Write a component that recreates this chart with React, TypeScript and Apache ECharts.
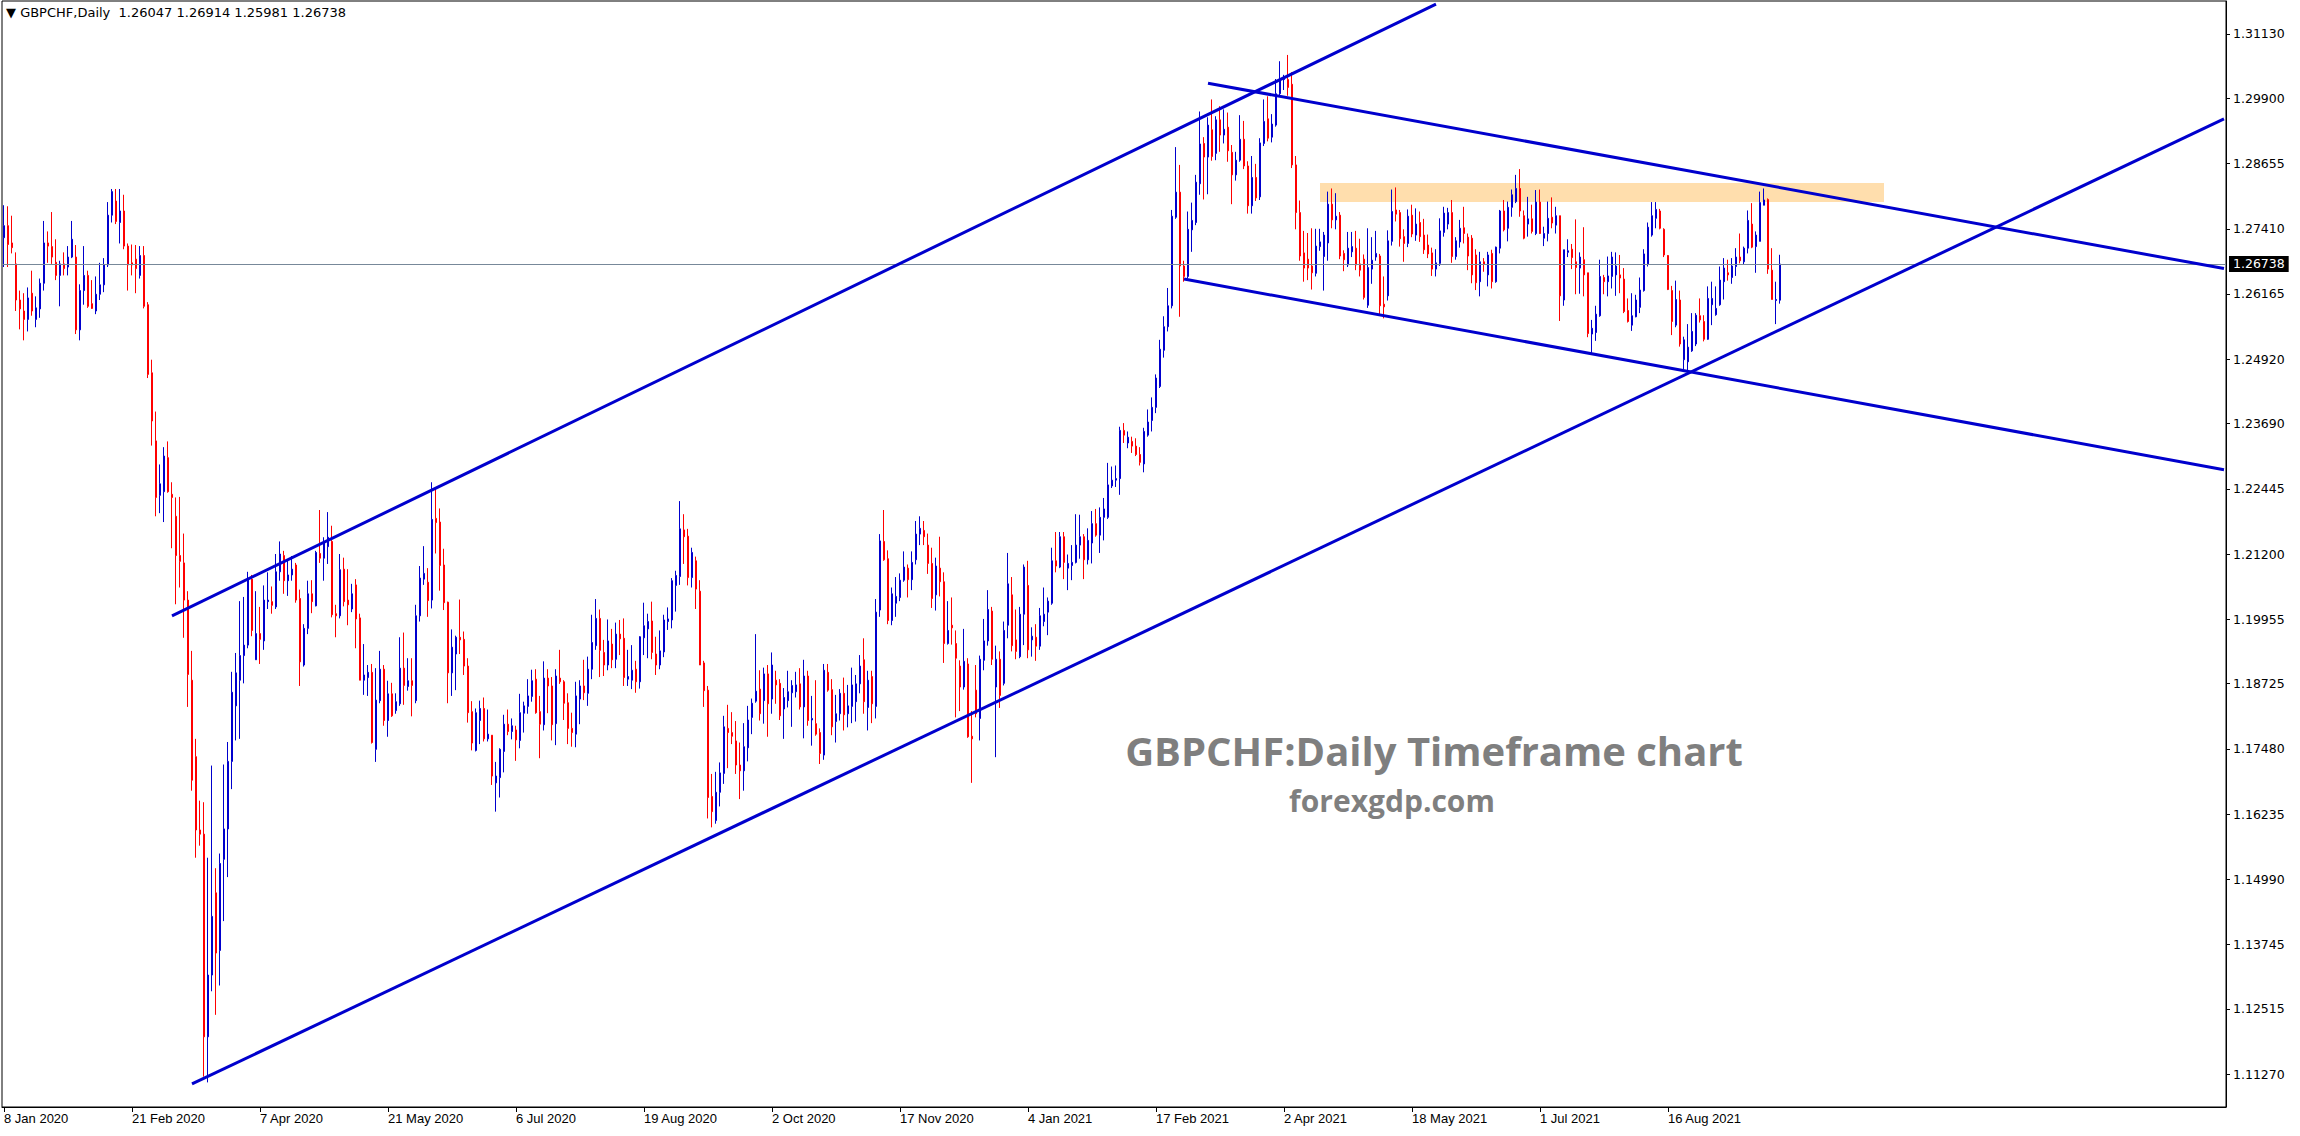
import React, { useEffect, useRef } from "react";
import * as echarts from "echarts";

// ---------- data (rows are [open, close, low, high]) ----------
const barsJanApr2020 = [
  [1.2724, 1.2747, 1.2668, 1.2786], [1.2747, 1.2711, 1.2668, 1.2784], [1.2714, 1.2705, 1.2694, 1.2766], [1.2674, 1.2605, 1.2584, 1.2696],
  [1.2605, 1.2588, 1.2549, 1.2623], [1.2584, 1.2568, 1.2528, 1.2618], [1.2568, 1.2609, 1.2545, 1.2629], [1.2618, 1.2584, 1.2575, 1.2661],
  [1.2568, 1.2590, 1.2553, 1.2612], [1.2588, 1.2637, 1.2571, 1.2646], [1.2637, 1.2714, 1.2623, 1.2756], [1.2714, 1.2708, 1.2676, 1.2736],
  [1.2707, 1.2687, 1.2674, 1.2773], [1.2677, 1.2652, 1.2643, 1.2721], [1.2652, 1.2674, 1.2593, 1.2680], [1.2674, 1.2665, 1.2652, 1.2696],
  [1.2668, 1.2687, 1.2652, 1.2708], [1.2687, 1.2721, 1.2685, 1.2756], [1.2687, 1.2548, 1.2540, 1.2710], [1.2548, 1.2623, 1.2528, 1.2635],
  [1.2623, 1.2652, 1.2596, 1.2708], [1.2652, 1.2593, 1.2590, 1.2661], [1.2598, 1.2589, 1.2588, 1.2643], [1.2584, 1.2616, 1.2578, 1.2650],
  [1.2616, 1.2634, 1.2605, 1.2676], [1.2634, 1.2672, 1.2620, 1.2685], [1.2672, 1.2767, 1.2668, 1.2792], [1.2767, 1.2812, 1.2753, 1.2817],
  [1.2794, 1.2755, 1.2750, 1.2817], [1.2753, 1.2775, 1.2713, 1.2817], [1.2775, 1.2708, 1.2702, 1.2806], [1.2708, 1.2672, 1.2623, 1.2713],
  [1.2676, 1.2672, 1.2652, 1.2711], [1.2683, 1.2665, 1.2618, 1.2710], [1.2652, 1.2690, 1.2646, 1.2708], [1.2690, 1.2593, 1.2589, 1.2708],
  [1.2596, 1.2463, 1.2456, 1.2601], [1.2466, 1.2374, 1.2327, 1.2491], [1.2336, 1.2228, 1.2192, 1.2392], [1.2232, 1.2254, 1.2198, 1.2291],
  [1.2239, 1.2307, 1.2181, 1.2324], [1.2304, 1.2239, 1.2237, 1.2335], [1.2234, 1.2228, 1.2131, 1.2257], [1.2192, 1.2117, 1.2024, 1.2228],
  [1.2117, 1.2106, 1.2056, 1.2229], [1.2103, 1.2032, 1.1960, 1.2159], [1.2032, 1.1890, 1.1828, 1.2049], [1.1879, 1.1688, 1.1668, 1.1935],
  [1.1733, 1.1593, 1.1540, 1.1767], [1.1593, 1.1585, 1.1563, 1.1649], [1.1585, 1.1198, 1.1122, 1.1646], [1.1198, 1.1316, 1.1111, 1.1540],
  [1.1316, 1.1428, 1.1285, 1.1716], [1.1473, 1.1358, 1.1240, 1.1520], [1.1363, 1.1529, 1.1296, 1.1548], [1.1537, 1.1595, 1.1419, 1.1718],
  [1.1595, 1.1724, 1.1503, 1.1761], [1.1724, 1.1856, 1.1671, 1.1895], [1.1830, 1.1893, 1.1764, 1.1931], [1.1879, 1.1926, 1.1767, 1.2030],
  [1.1926, 1.1946, 1.1873, 1.2038], [1.1946, 1.2072, 1.1940, 1.2086], [1.2072, 1.1974, 1.1963, 1.2080], [1.1918, 1.1968, 1.1918, 1.2049],
  [1.1968, 1.1957, 1.1910, 1.2019], [1.1954, 1.2032, 1.1937, 1.2060], [1.2029, 1.2032, 1.2015, 1.2085], [1.2029, 1.2022, 1.2006, 1.2058],
  [1.2019, 1.2086, 1.2015, 1.2120], [1.2086, 1.2120, 1.2069, 1.2144], [1.2117, 1.2069, 1.2044, 1.2126], [1.2069, 1.2080, 1.2040, 1.2108],
  [1.2080, 1.2091, 1.2069, 1.2116], [1.2099, 1.2032, 1.2027, 1.2103], [1.2035, 1.1914, 1.1868, 1.2052],
];

const barsAprAug2020 = [
  [1.1908, 1.1978, 1.1905, 1.1986], [1.1978, 1.2044, 1.1967, 1.2069], [1.2044, 1.2029, 1.2007, 1.2070], [1.2021, 1.2123, 1.2020, 1.2126],
  [1.2121, 1.2112, 1.2103, 1.2204], [1.2112, 1.2142, 1.2069, 1.2152], [1.2134, 1.2152, 1.2101, 1.2200], [1.2144, 1.2004, 1.1999, 1.2174],
  [1.2006, 1.2002, 1.1961, 1.2023], [1.2002, 1.2090, 1.1997, 1.2120], [1.2091, 1.2029, 1.2020, 1.2113], [1.2032, 1.2023, 1.1984, 1.2091],
  [1.2015, 1.2044, 1.2009, 1.2063], [1.2061, 1.1996, 1.1940, 1.2072], [1.1998, 1.1879, 1.1879, 1.2006], [1.1879, 1.1889, 1.1851, 1.1948],
  [1.1884, 1.1894, 1.1849, 1.1908], [1.1894, 1.1760, 1.1758, 1.1910], [1.1747, 1.1841, 1.1723, 1.1902], [1.1840, 1.1900, 1.1835, 1.1935],
  [1.1900, 1.1802, 1.1792, 1.1908], [1.1802, 1.1853, 1.1771, 1.1878], [1.1853, 1.1811, 1.1809, 1.1874], [1.1821, 1.1838, 1.1815, 1.1854],
  [1.1834, 1.1902, 1.1830, 1.1961], [1.1902, 1.1869, 1.1832, 1.1970], [1.1867, 1.1878, 1.1859, 1.1921], [1.1878, 1.1869, 1.1810, 1.1921],
  [1.1840, 1.2002, 1.1835, 1.2023], [1.2002, 1.2074, 1.1991, 1.2097], [1.2072, 1.2083, 1.2061, 1.2135], [1.2066, 1.2031, 1.2000, 1.2093],
  [1.2032, 1.2186, 1.2016, 1.2257], [1.2188, 1.2180, 1.2121, 1.2247], [1.2181, 1.2098, 1.2050, 1.2207], [1.2099, 1.2027, 1.2013, 1.2130],
  [1.2028, 1.1893, 1.1835, 1.2029], [1.1893, 1.1942, 1.1849, 1.1976], [1.1929, 1.1961, 1.1860, 1.1964], [1.1961, 1.1956, 1.1929, 1.2033],
  [1.1957, 1.1906, 1.1889, 1.1972], [1.1906, 1.1817, 1.1798, 1.1921], [1.1819, 1.1759, 1.1745, 1.1839], [1.1745, 1.1817, 1.1743, 1.1825],
  [1.1802, 1.1825, 1.1757, 1.1840], [1.1825, 1.1767, 1.1762, 1.1846], [1.1767, 1.1776, 1.1762, 1.1823], [1.1774, 1.1696, 1.1679, 1.1774],
  [1.1683, 1.1696, 1.1628, 1.1723], [1.1693, 1.1747, 1.1655, 1.1749], [1.1743, 1.1795, 1.1703, 1.1813], [1.1795, 1.1781, 1.1774, 1.1823],
  [1.1781, 1.1792, 1.1766, 1.1806], [1.1784, 1.1765, 1.1725, 1.1792], [1.1764, 1.1817, 1.1749, 1.1853], [1.1816, 1.1830, 1.1779, 1.1838],
  [1.1829, 1.1849, 1.1815, 1.1881], [1.1848, 1.1878, 1.1838, 1.1899], [1.1881, 1.1817, 1.1815, 1.1900], [1.1819, 1.1795, 1.1730, 1.1849],
  [1.1794, 1.1883, 1.1783, 1.1915], [1.1883, 1.1868, 1.1816, 1.1900], [1.1868, 1.1794, 1.1764, 1.1885], [1.1796, 1.1887, 1.1755, 1.1900],
  [1.1883, 1.1876, 1.1872, 1.1937], [1.1876, 1.1835, 1.1803, 1.1879], [1.1836, 1.1787, 1.1757, 1.1854], [1.1787, 1.1779, 1.1752, 1.1817],
  [1.1776, 1.1849, 1.1751, 1.1876], [1.1843, 1.1868, 1.1795, 1.1879], [1.1868, 1.1855, 1.1841, 1.1918], [1.1854, 1.1900, 1.1830, 1.1924],
];

const barsAugNov2020 = [
  [1.1900, 1.1951, 1.1881, 1.2004], [1.1945, 1.1997, 1.1937, 1.2034], [1.1997, 1.1936, 1.1885, 1.2014], [1.1932, 1.1908, 1.1887, 1.1956],
  [1.1908, 1.1954, 1.1898, 1.1995], [1.1948, 1.1918, 1.1902, 1.1977], [1.1919, 1.1967, 1.1902, 1.1989], [1.1967, 1.1958, 1.1927, 1.1994],
  [1.1959, 1.1884, 1.1868, 1.1997], [1.1881, 1.1886, 1.1868, 1.1937], [1.1879, 1.1898, 1.1862, 1.1946], [1.1900, 1.1876, 1.1855, 1.1916],
  [1.1876, 1.1962, 1.1863, 1.1963], [1.1960, 1.1983, 1.1927, 1.2027], [1.1977, 1.1991, 1.1921, 1.2006], [1.1992, 1.1932, 1.1919, 1.2029],
  [1.1929, 1.1908, 1.1889, 1.1962], [1.1908, 1.1935, 1.1900, 1.1974], [1.1933, 1.1994, 1.1923, 1.2004], [1.1991, 1.1996, 1.1975, 1.2018],
  [1.1994, 1.2069, 1.1978, 1.2074], [1.2060, 1.2079, 1.2010, 1.2088], [1.2077, 1.2168, 1.2061, 1.2221], [1.2166, 1.2153, 1.2101, 1.2196],
  [1.2154, 1.2075, 1.2060, 1.2168], [1.2075, 1.2123, 1.2056, 1.2132], [1.2107, 1.2053, 1.2015, 1.2115], [1.2049, 1.1908, 1.1908, 1.2070],
  [1.1912, 1.1859, 1.1828, 1.1916], [1.1860, 1.1655, 1.1615, 1.1868], [1.1657, 1.1628, 1.1598, 1.1700], [1.1611, 1.1665, 1.1605, 1.1704],
  [1.1665, 1.1702, 1.1638, 1.1722], [1.1701, 1.1790, 1.1681, 1.1811], [1.1787, 1.1779, 1.1711, 1.1832], [1.1779, 1.1772, 1.1757, 1.1818],
  [1.1763, 1.1717, 1.1700, 1.1801], [1.1717, 1.1706, 1.1652, 1.1760], [1.1706, 1.1752, 1.1668, 1.1797], [1.1750, 1.1803, 1.1724, 1.1830],
  [1.1808, 1.1835, 1.1776, 1.1844], [1.1839, 1.1858, 1.1836, 1.1967], [1.1862, 1.1815, 1.1802, 1.1898], [1.1840, 1.1891, 1.1796, 1.1903],
  [1.1891, 1.1834, 1.1771, 1.1908], [1.1843, 1.1908, 1.1815, 1.1932], [1.1879, 1.1870, 1.1834, 1.1897], [1.1873, 1.1811, 1.1803, 1.1881],
  [1.1824, 1.1846, 1.1767, 1.1864], [1.1840, 1.1857, 1.1827, 1.1897], [1.1855, 1.1869, 1.1790, 1.1879], [1.1857, 1.1870, 1.1846, 1.1895],
  [1.1872, 1.1828, 1.1823, 1.1902], [1.1828, 1.1887, 1.1768, 1.1918], [1.1887, 1.1802, 1.1792, 1.1897], [1.1803, 1.1806, 1.1754, 1.1849],
  [1.1796, 1.1776, 1.1773, 1.1879], [1.1779, 1.1739, 1.1719, 1.1787], [1.1736, 1.1898, 1.1727, 1.1910], [1.1894, 1.1860, 1.1857, 1.1910],
  [1.1861, 1.1790, 1.1774, 1.1881], [1.1800, 1.1815, 1.1760, 1.1851], [1.1815, 1.1854, 1.1802, 1.1862], [1.1854, 1.1813, 1.1783, 1.1884],
  [1.1815, 1.1830, 1.1789, 1.1870], [1.1829, 1.1870, 1.1797, 1.1903], [1.1838, 1.1872, 1.1800, 1.1889], [1.1872, 1.1906, 1.1854, 1.1927],
  [1.1918, 1.1838, 1.1815, 1.1959], [1.1827, 1.1879, 1.1783, 1.1897], [1.1886, 1.1834, 1.1797, 1.1897], [1.1829, 1.2009, 1.1806, 1.2034],
  [1.2013, 1.2145, 1.2000, 1.2158],
];

const barsNov2020Feb2021 = [
  [1.2144, 1.2109, 1.2107, 1.2204], [1.2111, 1.1993, 1.1986, 1.2127], [1.1993, 1.2044, 1.1984, 1.2056], [1.2026, 1.2039, 1.2000, 1.2076],
  [1.2037, 1.2070, 1.2030, 1.2083], [1.2070, 1.2095, 1.2067, 1.2125], [1.2093, 1.2071, 1.2037, 1.2100], [1.2071, 1.2104, 1.2051, 1.2125],
  [1.2109, 1.2158, 1.2100, 1.2183], [1.2158, 1.2169, 1.2137, 1.2192], [1.2165, 1.2153, 1.2137, 1.2183], [1.2137, 1.2102, 1.2082, 1.2159],
  [1.2102, 1.2035, 1.2017, 1.2132], [1.2042, 1.2097, 1.2012, 1.2113], [1.2093, 1.2067, 1.2039, 1.2153], [1.2067, 1.1949, 1.1912, 1.2085],
  [1.1949, 1.1974, 1.1947, 1.2030], [1.1984, 1.1979, 1.1947, 1.2037], [1.1949, 1.1921, 1.1808, 1.1974], [1.1906, 1.1866, 1.1820, 1.1917],
  [1.1866, 1.1915, 1.1861, 1.1977], [1.1910, 1.1771, 1.1769, 1.1921], [1.1772, 1.1767, 1.1683, 1.1820], [1.1860, 1.1815, 1.1808, 1.1908],
  [1.1806, 1.1919, 1.1764, 1.1926], [1.1917, 1.1954, 1.1898, 1.1996], [1.1954, 1.2014, 1.1945, 1.2051], [1.2011, 1.1919, 1.1908, 1.2019],
  [1.1866, 1.1919, 1.1732, 1.1945], [1.1919, 1.1850, 1.1826, 1.1934], [1.1873, 1.1974, 1.1869, 1.1991], [1.1984, 1.2063, 1.1959, 1.2122],
  [1.2042, 1.1945, 1.1934, 1.2076], [1.1956, 1.1934, 1.1919, 1.2014], [1.1924, 1.2005, 1.1921, 1.2019], [1.2005, 1.2095, 1.1946, 1.2100],
  [1.2060, 1.1937, 1.1921, 1.2107], [1.1956, 1.1963, 1.1924, 1.1980], [1.1961, 1.1944, 1.1916, 1.1986], [1.1944, 1.2002, 1.1937, 1.2017],
  [1.1991, 1.2005, 1.1982, 1.2056], [1.2009, 1.2030, 1.1965, 1.2037], [1.2026, 1.2107, 1.2023, 1.2132], [1.2107, 1.2097, 1.2085, 1.2162],
  [1.2095, 1.2153, 1.2093, 1.2162], [1.2153, 1.2104, 1.2072, 1.2162], [1.2093, 1.2102, 1.2051, 1.2119], [1.2098, 1.2104, 1.2070, 1.2137],
  [1.2104, 1.2137, 1.2102, 1.2196], [1.2137, 1.2153, 1.2111, 1.2195], [1.2153, 1.2109, 1.2072, 1.2158], [1.2109, 1.2146, 1.2100, 1.2169],
  [1.2141, 1.2178, 1.2102, 1.2202], [1.2178, 1.2156, 1.2153, 1.2206], [1.2156, 1.2190, 1.2122, 1.2209], [1.2190, 1.2206, 1.2146, 1.2227],
  [1.2190, 1.2252, 1.2187, 1.2294], [1.2250, 1.2261, 1.2246, 1.2287], [1.2261, 1.2264, 1.2248, 1.2289], [1.2264, 1.2356, 1.2233, 1.2363],
  [1.2356, 1.2347, 1.2332, 1.2370], [1.2332, 1.2343, 1.2322, 1.2354], [1.2335, 1.2326, 1.2313, 1.2344], [1.2326, 1.2310, 1.2307, 1.2341],
  [1.2310, 1.2295, 1.2289, 1.2324], [1.2292, 1.2354, 1.2276, 1.2361], [1.2347, 1.2372, 1.2344, 1.2396], [1.2375, 1.2400, 1.2354, 1.2419],
  [1.2400, 1.2456, 1.2389, 1.2463], [1.2440, 1.2511, 1.2437, 1.2529], [1.2509, 1.2554, 1.2495, 1.2574], [1.2554, 1.2594, 1.2545, 1.2628],
];

const barsFebMay2021 = [
  [1.2594, 1.2765, 1.2589, 1.2777], [1.2763, 1.2811, 1.2760, 1.2897], [1.2811, 1.2670, 1.2573, 1.2863], [1.2670, 1.2650, 1.2640, 1.2680],
  [1.2650, 1.2740, 1.2646, 1.2774], [1.2739, 1.2757, 1.2697, 1.2791], [1.2753, 1.2830, 1.2748, 1.2844], [1.2827, 1.2903, 1.2806, 1.2965],
  [1.2904, 1.2878, 1.2797, 1.2916], [1.2878, 1.2939, 1.2807, 1.2954], [1.2930, 1.2879, 1.2871, 1.2988], [1.2885, 1.2949, 1.2872, 1.2956],
  [1.2949, 1.2920, 1.2888, 1.2975], [1.2920, 1.2931, 1.2904, 1.2969], [1.2935, 1.2890, 1.2869, 1.2963], [1.2887, 1.2844, 1.2788, 1.2901],
  [1.2844, 1.2872, 1.2833, 1.2888], [1.2872, 1.2912, 1.2869, 1.2958], [1.2912, 1.2861, 1.2855, 1.2947], [1.2861, 1.2785, 1.2770, 1.2870],
  [1.2785, 1.2839, 1.2770, 1.2880], [1.2839, 1.2800, 1.2794, 1.2865], [1.2802, 1.2905, 1.2796, 1.2914], [1.2904, 1.2946, 1.2899, 1.2988],
  [1.2951, 1.2914, 1.2908, 1.2994], [1.2916, 1.2941, 1.2906, 1.2960], [1.2939, 1.2999, 1.2936, 1.3027], [1.2999, 1.3026, 1.2993, 1.3061],
  [1.3026, 1.3029, 1.3006, 1.3035], [1.3026, 1.3011, 1.2995, 1.3073], [1.3017, 1.2863, 1.2857, 1.3040], [1.2863, 1.2772, 1.2740, 1.2880],
  [1.2772, 1.2689, 1.2680, 1.2795], [1.2695, 1.2666, 1.2640, 1.2737], [1.2683, 1.2666, 1.2643, 1.2733], [1.2670, 1.2657, 1.2625, 1.2742],
  [1.2656, 1.2708, 1.2650, 1.2741], [1.2707, 1.2716, 1.2699, 1.2741], [1.2688, 1.2729, 1.2623, 1.2735], [1.2714, 1.2788, 1.2680, 1.2812],
  [1.2788, 1.2758, 1.2742, 1.2818], [1.2758, 1.2765, 1.2740, 1.2809], [1.2767, 1.2689, 1.2683, 1.2773], [1.2694, 1.2682, 1.2660, 1.2700],
  [1.2672, 1.2704, 1.2668, 1.2735], [1.2697, 1.2707, 1.2687, 1.2735], [1.2704, 1.2672, 1.2662, 1.2737], [1.2674, 1.2662, 1.2650, 1.2722],
  [1.2683, 1.2610, 1.2606, 1.2692], [1.2595, 1.2667, 1.2590, 1.2742], [1.2664, 1.2681, 1.2636, 1.2725], [1.2687, 1.2694, 1.2680, 1.2737],
  [1.2689, 1.2594, 1.2575, 1.2693], [1.2597, 1.2592, 1.2570, 1.2650], [1.2613, 1.2718, 1.2604, 1.2738], [1.2717, 1.2774, 1.2709, 1.2816],
  [1.2777, 1.2769, 1.2755, 1.2820], [1.2772, 1.2722, 1.2707, 1.2777], [1.2726, 1.2713, 1.2678, 1.2740], [1.2713, 1.2765, 1.2706, 1.2778],
  [1.2767, 1.2731, 1.2725, 1.2787], [1.2729, 1.2750, 1.2718, 1.2780], [1.2753, 1.2726, 1.2716, 1.2774], [1.2729, 1.2701, 1.2693, 1.2760],
  [1.2710, 1.2693, 1.2685, 1.2730], [1.2695, 1.2664, 1.2651, 1.2705], [1.2664, 1.2676, 1.2650, 1.2702], [1.2675, 1.2737, 1.2670, 1.2761],
  [1.2734, 1.2771, 1.2726, 1.2783], [1.2750, 1.2772, 1.2740, 1.2781], [1.2772, 1.2688, 1.2676, 1.2796], [1.2688, 1.2718, 1.2682, 1.2725],
  [1.2716, 1.2742, 1.2705, 1.2758],
];

const barsMaySep2021 = [
  [1.2743, 1.2732, 1.2713, 1.2783], [1.2725, 1.2689, 1.2662, 1.2732], [1.2723, 1.2653, 1.2637, 1.2729], [1.2691, 1.2638, 1.2624, 1.2702],
  [1.2640, 1.2678, 1.2612, 1.2697], [1.2678, 1.2673, 1.2659, 1.2685], [1.2653, 1.2691, 1.2631, 1.2697], [1.2694, 1.2640, 1.2627, 1.2701],
  [1.2640, 1.2706, 1.2638, 1.2707], [1.2704, 1.2775, 1.2694, 1.2777], [1.2775, 1.2739, 1.2736, 1.2796], [1.2742, 1.2782, 1.2717, 1.2793],
  [1.2782, 1.2806, 1.2764, 1.2816], [1.2793, 1.2818, 1.2790, 1.2844], [1.2818, 1.2775, 1.2764, 1.2855], [1.2766, 1.2723, 1.2721, 1.2776],
  [1.2750, 1.2760, 1.2726, 1.2802], [1.2760, 1.2736, 1.2732, 1.2787], [1.2732, 1.2792, 1.2729, 1.2815], [1.2792, 1.2732, 1.2731, 1.2816],
  [1.2723, 1.2732, 1.2708, 1.2745], [1.2732, 1.2761, 1.2717, 1.2793], [1.2763, 1.2752, 1.2742, 1.2801], [1.2748, 1.2766, 1.2732, 1.2783],
  [1.2766, 1.2613, 1.2565, 1.2766], [1.2605, 1.2701, 1.2594, 1.2701], [1.2696, 1.2699, 1.2687, 1.2721], [1.2702, 1.2686, 1.2664, 1.2712],
  [1.2678, 1.2667, 1.2616, 1.2759], [1.2666, 1.2687, 1.2617, 1.2696], [1.2682, 1.2653, 1.2612, 1.2744], [1.2657, 1.2541, 1.2534, 1.2657],
  [1.2540, 1.2551, 1.2503, 1.2567], [1.2543, 1.2578, 1.2527, 1.2594], [1.2575, 1.2650, 1.2573, 1.2682], [1.2648, 1.2640, 1.2616, 1.2653],
  [1.2640, 1.2651, 1.2612, 1.2688], [1.2650, 1.2687, 1.2627, 1.2697], [1.2653, 1.2670, 1.2613, 1.2696], [1.2653, 1.2647, 1.2618, 1.2691],
  [1.2645, 1.2583, 1.2580, 1.2666], [1.2585, 1.2564, 1.2562, 1.2608], [1.2557, 1.2575, 1.2546, 1.2618], [1.2573, 1.2605, 1.2572, 1.2615],
  [1.2591, 1.2624, 1.2580, 1.2648], [1.2623, 1.2693, 1.2621, 1.2702], [1.2674, 1.2744, 1.2669, 1.2753], [1.2729, 1.2766, 1.2726, 1.2792],
  [1.2761, 1.2778, 1.2742, 1.2792], [1.2775, 1.2742, 1.2740, 1.2779], [1.2740, 1.2691, 1.2687, 1.2742], [1.2690, 1.2625, 1.2624, 1.2691],
  [1.2623, 1.2564, 1.2538, 1.2632], [1.2557, 1.2606, 1.2553, 1.2642], [1.2605, 1.2521, 1.2516, 1.2623], [1.2491, 1.2529, 1.2472, 1.2535],
  [1.2487, 1.2515, 1.2468, 1.2559], [1.2508, 1.2545, 1.2506, 1.2580], [1.2521, 1.2576, 1.2517, 1.2580], [1.2575, 1.2567, 1.2562, 1.2608],
  [1.2564, 1.2530, 1.2526, 1.2576], [1.2530, 1.2608, 1.2529, 1.2631], [1.2596, 1.2608, 1.2557, 1.2640], [1.2577, 1.2589, 1.2575, 1.2631],
  [1.2596, 1.2643, 1.2594, 1.2669], [1.2640, 1.2666, 1.2606, 1.2685], [1.2657, 1.2653, 1.2642, 1.2682], [1.2648, 1.2670, 1.2636, 1.2685],
  [1.2669, 1.2687, 1.2651, 1.2704], [1.2687, 1.2680, 1.2675, 1.2732], [1.2678, 1.2704, 1.2672, 1.2707], [1.2704, 1.2757, 1.2694, 1.2776],
  [1.2750, 1.2706, 1.2704, 1.2790], [1.2707, 1.2729, 1.2657, 1.2736], [1.2717, 1.2791, 1.2717, 1.2812], [1.2786, 1.2796, 1.2786, 1.2818],
  [1.2797, 1.2664, 1.2655, 1.2799], [1.2662, 1.2606, 1.2606, 1.2704], [1.2604, 1.2606, 1.2559, 1.2640], [1.26047, 1.26738, 1.25981, 1.26914],
];

const PRICE_TICKS = [
  1.3113, 1.299, 1.28655, 1.2741, 1.26165, 1.2492, 1.2369, 1.22445, 1.212,
  1.19955, 1.18725, 1.1748, 1.16235, 1.1499, 1.13745, 1.12515, 1.1127,
];
const CURRENT_PRICE = 1.26738;
const HEADER_TEXT = "\u25BC GBPCHF,Daily  1.26047 1.26914 1.25981 1.26738";
const WATERMARK_TITLE = "GBPCHF:Daily Timeframe chart";
const WATERMARK_SITE = "forexgdp.com";
const MONTHS = ["Jan", "Feb", "Mar", "Apr", "May", "Jun", "Jul", "Aug", "Sep", "Oct", "Nov", "Dec"];

// trend lines: [[barIndex, price], [barIndex, price]]
const channelUpperRising = [[42, 1.2002], [358, 1.317]];
const channelLowerRising = [[47, 1.1108], [555, 1.2951]];
const channelUpperFalling = [[301, 1.3019], [555, 1.2665]];
const channelLowerFalling = [[295, 1.2645], [555, 1.2281]];
// resistance zone: [fromBar, topPrice, toBar, bottomPrice]
const resistanceZone = [329, 1.28285, 470, 1.27922];

const TOTAL_SLOTS = 556;
const LABEL_STEP = 32;

function buildDates(n: number): string[] {
  const out: string[] = [];
  const d = new Date(Date.UTC(2020, 0, 8));
  while (out.length < n) {
    const wd = d.getUTCDay();
    const m = d.getUTCMonth();
    const day = d.getUTCDate();
    const holiday = (m === 11 && day === 25) || (m === 0 && day === 1);
    if (wd !== 0 && wd !== 6 && !holiday) out.push(`${day} ${MONTHS[m]} ${d.getUTCFullYear()}`);
    d.setUTCDate(day + 1);
  }
  return out;
}

export default function App() {
  const ref = useRef<HTMLDivElement>(null);
  useEffect(() => {
    document.body.style.margin = "0";
    const chart = echarts.init(ref.current as HTMLDivElement, null, { renderer: "svg", width: 2300, height: 1136 });
    const bars = [
      ...barsJanApr2020, ...barsAprAug2020, ...barsAugNov2020,
      ...barsNov2020Feb2021, ...barsFebMay2021, ...barsMaySep2021,
    ];
    const dates = buildDates(bars.length);
    const categories = Array.from({ length: TOTAL_SLOTS }, (_, i) => (i < dates.length ? dates[i] : ""));
    const showLabel = (idx: number) => idx % LABEL_STEP === 0 && idx < dates.length;
    const BLUE = "#0000CD";
    const RED = "#FF0000";
    const lineSeries = (data: number[][]) => ({
      type: "line",
      data,
      showSymbol: false,
      symbol: "none",
      silent: true,
      z: 5,
      lineStyle: { color: BLUE, width: 3 },
    });

    chart.setOption({
      animation: false,
      backgroundColor: "#ffffff",
      grid: { left: 2, top: 1, width: 2224, height: 1106, show: true, borderColor: "#000", borderWidth: 1, backgroundColor: "#fff" },
      xAxis: {
        type: "category",
        data: categories,
        boundaryGap: true,
        axisLine: { lineStyle: { color: "#000", width: 1 } },
        axisTick: { show: true, alignWithLabel: true, interval: (i: number) => showLabel(i), length: 5, lineStyle: { color: "#000" } },
        axisLabel: {
          interval: (i: number) => showLabel(i),
          align: "left",
          color: "#000",
          fontFamily: "Liberation Sans",
          fontSize: 13,
          margin: 5,
        },
        splitLine: { show: false },
      },
      yAxis: {
        type: "value",
        position: "right",
        min: 1.1064,
        max: 1.3176,
        axisLine: { show: true, lineStyle: { color: "#000", width: 1 } },
        axisTick: { show: true, length: 4, customValues: PRICE_TICKS, lineStyle: { color: "#000" } },
        axisLabel: {
          customValues: PRICE_TICKS,
          formatter: (v: number) => v.toFixed(5),
          color: "#000",
          fontFamily: "DejaVu Sans",
          fontSize: 12.5,
          margin: 7,
        },
        splitLine: { show: false },
      },
      graphic: [
        { type: "text", left: 6, top: 6, style: { text: HEADER_TEXT, fill: "#000", font: '13px "DejaVu Sans", sans-serif' } },
        {
          type: "text", x: 1434, y: 750, z: 0,
          style: { text: WATERMARK_TITLE, fill: "#7f7f7f", font: 'bold 40px "Open Sans", sans-serif', textAlign: "center", textVerticalAlign: "middle" },
        },
        {
          type: "text", x: 1392, y: 800, z: 0,
          style: { text: WATERMARK_SITE, fill: "#7f7f7f", font: 'bold 30px "Open Sans", sans-serif', textAlign: "center", textVerticalAlign: "middle" },
        },
      ],
      series: [
        {
          type: "custom",
          silent: true,
          z: 1,
          data: [resistanceZone],
          renderItem: (_params: any, api: any) => {
            const p1 = api.coord([api.value(0), api.value(1)]);
            const p2 = api.coord([api.value(2), api.value(3)]);
            return {
              type: "rect",
              shape: { x: p1[0], y: p1[1], width: p2[0] - p1[0], height: p2[1] - p1[1] },
              style: { fill: "#FFDEAD" },
            };
          },
        },
        {
          type: "candlestick",
          data: bars,
          barWidth: 2,
          z: 3,
          silent: true,
          itemStyle: { color: BLUE, color0: RED, borderColor: BLUE, borderColor0: RED, borderWidth: 1 },
          markLine: {
            silent: true,
            precision: 5,
            symbol: ["none", "none"],
            lineStyle: { color: "#778899", width: 1, type: "solid" },
            label: {
              show: true,
              position: "end",
              formatter: CURRENT_PRICE.toFixed(5),
              backgroundColor: "#000",
              color: "#fff",
              fontFamily: "DejaVu Sans",
              fontSize: 12.5,
              padding: [2, 4, 1, 4],
              distance: 3,
            },
            data: [{ yAxis: CURRENT_PRICE }],
          },
        },
        lineSeries(channelUpperRising),
        lineSeries(channelLowerRising),
        lineSeries(channelUpperFalling),
        lineSeries(channelLowerFalling),
      ],
    });
    return () => chart.dispose();
  }, []);
  return <div ref={ref} style={{ position: "fixed", left: 0, top: 0, width: 2300, height: 1136, background: "#fff" }} />;
}
